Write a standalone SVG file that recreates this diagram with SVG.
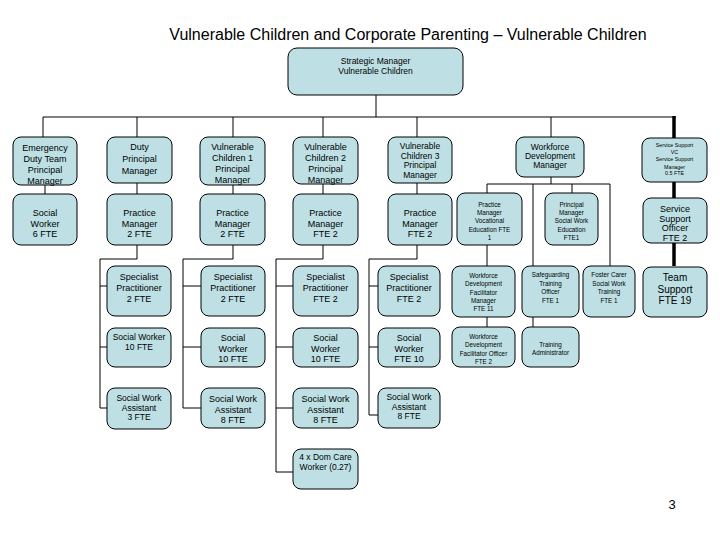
<svg xmlns="http://www.w3.org/2000/svg" width="720" height="540" viewBox="0 0 720 540">
<style>
.b{fill:#BEE0E5;stroke:#000;stroke-width:1}
text{font-family:"Liberation Sans",Arial,sans-serif;fill:#000;text-anchor:middle}
.t{font-size:8.5px}
.m{font-size:9px}
.s{font-size:6.3px}
.xs{font-size:5.3px}
.l{font-size:10px}
.c line,.c polyline{stroke:#000;stroke-width:1;fill:none}
.c .k{stroke-width:3.5}
</style>
<rect width="720" height="540" fill="#fff"/>
<text x="408" y="40" style="font-size:16px">Vulnerable Children and Corporate Parenting – Vulnerable Children</text>

<g class="c" id="connectors">
<line x1="376" y1="95" x2="376" y2="117"/>
<line x1="43" y1="117" x2="676" y2="117"/>
<line x1="43" y1="117" x2="43" y2="137"/>
<line x1="137" y1="117" x2="137" y2="137"/>
<line x1="233" y1="117" x2="233" y2="137"/>
<line x1="323" y1="117" x2="323" y2="137"/>
<line x1="417" y1="117" x2="417" y2="137"/>
<line x1="551" y1="117" x2="551" y2="137"/>
<line class="k" x1="674" y1="116" x2="674" y2="266"/>
<line x1="45" y1="185" x2="45" y2="194"/>
<line x1="137" y1="183" x2="137" y2="194"/>
<line x1="233" y1="185" x2="233" y2="194"/>
<line x1="323" y1="184" x2="323" y2="194"/>
<line x1="417" y1="183" x2="417" y2="194"/>
<polyline points="137,245 137,259 100,259 100,408"/>
<line x1="100" y1="286" x2="107" y2="286"/>
<line x1="100" y1="347" x2="107" y2="347"/>
<line x1="100" y1="408" x2="107" y2="408"/>
<polyline points="233,245 233,259 183,259 183,408 201,408"/>
<line x1="183" y1="286" x2="201" y2="286"/>
<line x1="183" y1="347" x2="201" y2="347"/>
<polyline points="323,245 323,259 276,259 276,472 293,472"/>
<line x1="276" y1="286" x2="293" y2="286"/>
<line x1="276" y1="347" x2="293" y2="347"/>
<line x1="276" y1="408" x2="293" y2="408"/>
<polyline points="417,245 417,259 369,259 369,415 378,415"/>
<line x1="369" y1="286" x2="378" y2="286"/>
<line x1="369" y1="347" x2="378" y2="347"/>
<line x1="551" y1="177" x2="551" y2="184"/>
<line x1="487" y1="184" x2="610" y2="184"/>
<line x1="487" y1="184" x2="487" y2="193"/>
<line x1="572" y1="184" x2="572" y2="193"/>
<line x1="533" y1="184" x2="533" y2="266"/>
<line x1="610" y1="184" x2="610" y2="266"/>
<line x1="487" y1="245" x2="487" y2="266"/>
<line x1="487" y1="317" x2="487" y2="327"/>
<line x1="533" y1="317" x2="533" y2="327"/>
</g>

<g id="strategic"><rect class="b" x="288" y="48" width="175" height="47" rx="9"/>
<text class="t" x="375.5" y="64">Strategic Manager<tspan x="375.5" dy="10">Vulnerable Children</tspan></text></g>

<g id="emergency"><rect class="b" x="13" y="137" width="64" height="48" rx="8"/>
<text class="m" x="45" y="151">Emergency<tspan x="45" dy="11">Duty Team</tspan><tspan x="45" dy="11">Principal</tspan><tspan x="45" dy="11">Manager</tspan></text></g>
<g id="duty"><rect class="b" x="107" y="137" width="65" height="46" rx="8"/>
<text class="m" x="139.5" y="150">Duty<tspan x="139.5" dy="12">Principal</tspan><tspan x="139.5" dy="12">Manager</tspan></text></g>
<g id="vc1"><rect class="b" x="200" y="137" width="65" height="48" rx="8"/>
<text class="m" x="232.5" y="150">Vulnerable<tspan x="232.5" dy="11">Children 1</tspan><tspan x="232.5" dy="11">Principal</tspan><tspan x="232.5" dy="11">Manager</tspan></text></g>
<g id="vc2"><rect class="b" x="293" y="137" width="65" height="47" rx="8"/>
<text class="m" x="325.5" y="150">Vulnerable<tspan x="325.5" dy="11">Children 2</tspan><tspan x="325.5" dy="11">Principal</tspan><tspan x="325.5" dy="11">Manager</tspan></text></g>
<g id="vc3"><rect class="b" x="388" y="137" width="64" height="46" rx="8"/>
<text class="t" x="420" y="149">Vulnerable<tspan x="420" dy="9.7">Children 3</tspan><tspan x="420" dy="9.7">Principal</tspan><tspan x="420" dy="9.7">Manager</tspan></text></g>
<g id="wdm"><rect class="b" x="516" y="137" width="68" height="40" rx="8"/>
<text class="t" x="550" y="150">Workforce<tspan x="550" dy="9">Development</tspan><tspan x="550" dy="9">Manager</tspan></text></g>
<g id="ssvc"><rect class="b" x="642" y="138" width="65" height="44" rx="8"/>
<text class="xs" x="674.5" y="147">Service Support<tspan x="674.5" dy="7.2">VC</tspan><tspan x="674.5" dy="7.2">Service Support</tspan><tspan x="674.5" dy="7.2">Manager</tspan><tspan x="674.5" dy="6.5">0.5 FTE</tspan></text></g>

<g id="sw6"><rect class="b" x="13" y="194" width="64" height="51" rx="8"/>
<text class="m" x="45" y="216">Social<tspan x="45" dy="10.5">Worker</tspan><tspan x="45" dy="10.5">6 FTE</tspan></text></g>
<g id="pm1"><rect class="b" x="107" y="194" width="65" height="51" rx="8"/>
<text class="m" x="139.5" y="216">Practice<tspan x="139.5" dy="10.5">Manager</tspan><tspan x="139.5" dy="10.5">2 FTE</tspan></text></g>
<g id="pm2"><rect class="b" x="200" y="194" width="65" height="51" rx="8"/>
<text class="m" x="232.5" y="216">Practice<tspan x="232.5" dy="10.5">Manager</tspan><tspan x="232.5" dy="10.5">2 FTE</tspan></text></g>
<g id="pm3"><rect class="b" x="293" y="194" width="65" height="51" rx="8"/>
<text class="m" x="325.5" y="216">Practice<tspan x="325.5" dy="10.5">Manager</tspan><tspan x="325.5" dy="10.5">FTE 2</tspan></text></g>
<g id="pm4"><rect class="b" x="388" y="194" width="64" height="51" rx="8"/>
<text class="m" x="420" y="216">Practice<tspan x="420" dy="10.5">Manager</tspan><tspan x="420" dy="10.5">FTE 2</tspan></text></g>
<g id="pmve"><rect class="b" x="457" y="193" width="65" height="52" rx="8"/>
<text class="s" x="489.5" y="207">Practice<tspan x="489.5" dy="8.2">Manager</tspan><tspan x="489.5" dy="8.2">Vocational</tspan><tspan x="489.5" dy="8.2">Education FTE</tspan><tspan x="489.5" dy="8.2">1</tspan></text></g>
<g id="pmswe"><rect class="b" x="545" y="193" width="53" height="52" rx="8"/>
<text class="s" x="571.5" y="207">Principal<tspan x="571.5" dy="8.2">Manager</tspan><tspan x="571.5" dy="8.2">Social Work</tspan><tspan x="571.5" dy="8.2">Education</tspan><tspan x="571.5" dy="8.2">FTE1</tspan></text></g>
<g id="sso"><rect class="b" x="643" y="198" width="64" height="45" rx="8"/>
<text class="m" x="675" y="212">Service<tspan x="675" dy="9.5">Support</tspan><tspan x="675" dy="9.5">Officer</tspan><tspan x="675" dy="9.5">FTE 2</tspan></text></g>

<g id="sp1"><rect class="b" x="107" y="266" width="64" height="50" rx="8"/>
<text class="m" x="139" y="280">Specialist<tspan x="139" dy="11">Practitioner</tspan><tspan x="139" dy="11">2 FTE</tspan></text></g>
<g id="sp2"><rect class="b" x="201" y="266" width="64" height="50" rx="8"/>
<text class="m" x="233" y="280">Specialist<tspan x="233" dy="11">Practitioner</tspan><tspan x="233" dy="11">2 FTE</tspan></text></g>
<g id="sp3"><rect class="b" x="293" y="266" width="65" height="50" rx="8"/>
<text class="m" x="325.5" y="280">Specialist<tspan x="325.5" dy="11">Practitioner</tspan><tspan x="325.5" dy="11">FTE 2</tspan></text></g>
<g id="sp4"><rect class="b" x="378" y="266" width="62" height="50" rx="8"/>
<text class="m" x="409" y="280">Specialist<tspan x="409" dy="11">Practitioner</tspan><tspan x="409" dy="11">FTE 2</tspan></text></g>
<g id="wdfm"><rect class="b" x="452" y="266" width="63" height="51" rx="8"/>
<text class="s" x="483.5" y="278">Workforce<tspan x="483.5" dy="8.3">Development</tspan><tspan x="483.5" dy="8.3">Facilitator</tspan><tspan x="483.5" dy="8.3">Manager</tspan><tspan x="483.5" dy="8.3">FTE 11</tspan></text></g>
<g id="sto"><rect class="b" x="522" y="266" width="57" height="51" rx="8"/>
<text class="s" x="550.5" y="277">Safeguarding<tspan x="550.5" dy="8.7">Training</tspan><tspan x="550.5" dy="8.7">Officer</tspan><tspan x="550.5" dy="8.3">FTE 1</tspan></text></g>
<g id="fcsw"><rect class="b" x="583" y="266" width="52" height="51" rx="8"/>
<text class="s" x="609" y="277">Foster Carer<tspan x="609" dy="8.7">Social Work</tspan><tspan x="609" dy="8.7">Training</tspan><tspan x="609" dy="8.3">FTE 1</tspan></text></g>
<g id="ts"><rect class="b" x="643" y="267" width="64" height="50" rx="8"/>
<text class="l" x="675" y="281">Team<tspan x="675" dy="11.5">Support</tspan><tspan x="675" dy="11.5">FTE 19</tspan></text></g>

<g id="sw1"><rect class="b" x="107" y="328" width="64" height="39" rx="8"/>
<text class="t" x="139" y="340">Social Worker<tspan x="139" dy="10">10 FTE</tspan></text></g>
<g id="sw2"><rect class="b" x="201" y="328" width="64" height="39" rx="8"/>
<text class="m" x="233" y="341">Social<tspan x="233" dy="10.5">Worker</tspan><tspan x="233" dy="10.5">10 FTE</tspan></text></g>
<g id="sw3"><rect class="b" x="293" y="328" width="65" height="39" rx="8"/>
<text class="m" x="325.5" y="341">Social<tspan x="325.5" dy="10.5">Worker</tspan><tspan x="325.5" dy="10.5">10 FTE</tspan></text></g>
<g id="sw4"><rect class="b" x="378" y="328" width="62" height="39" rx="8"/>
<text class="m" x="409" y="341">Social<tspan x="409" dy="10.5">Worker</tspan><tspan x="409" dy="10.5">FTE 10</tspan></text></g>
<g id="wdfo"><rect class="b" x="452" y="327" width="63" height="40" rx="8"/>
<text class="s" x="483.5" y="339">Workforce<tspan x="483.5" dy="8.3">Development</tspan><tspan x="483.5" dy="8.3">Facilitator Officer</tspan><tspan x="483.5" dy="8.3">FTE 2</tspan></text></g>
<g id="ta"><rect class="b" x="522" y="327" width="57" height="40" rx="8"/>
<text class="s" x="550.5" y="347">Training<tspan x="550.5" dy="8.3">Administrator</tspan></text></g>

<g id="swa1"><rect class="b" x="107" y="388" width="64" height="41" rx="8"/>
<text class="t" x="139" y="401">Social Work<tspan x="139" dy="9.5">Assistant</tspan><tspan x="139" dy="9.5">3 FTE</tspan></text></g>
<g id="swa2"><rect class="b" x="201" y="388" width="64" height="40" rx="8"/>
<text class="m" x="233" y="402">Social Work<tspan x="233" dy="10.5">Assistant</tspan><tspan x="233" dy="10.5">8 FTE</tspan></text></g>
<g id="swa3"><rect class="b" x="293" y="388" width="65" height="40" rx="8"/>
<text class="m" x="325.5" y="402">Social Work<tspan x="325.5" dy="10.5">Assistant</tspan><tspan x="325.5" dy="10.5">8 FTE</tspan></text></g>
<g id="swa4"><rect class="b" x="378" y="388" width="62" height="40" rx="8"/>
<text class="t" x="409" y="400">Social Work<tspan x="409" dy="9.5">Assistant</tspan><tspan x="409" dy="9.5">8 FTE</tspan></text></g>
<g id="domcare"><rect class="b" x="293" y="449" width="65" height="40" rx="8"/>
<text class="t" x="325.5" y="460">4 x Dom Care<tspan x="325.5" dy="10">Worker (0.27)</tspan></text></g>

<text x="672" y="509" style="font-size:13px">3</text>
</svg>
